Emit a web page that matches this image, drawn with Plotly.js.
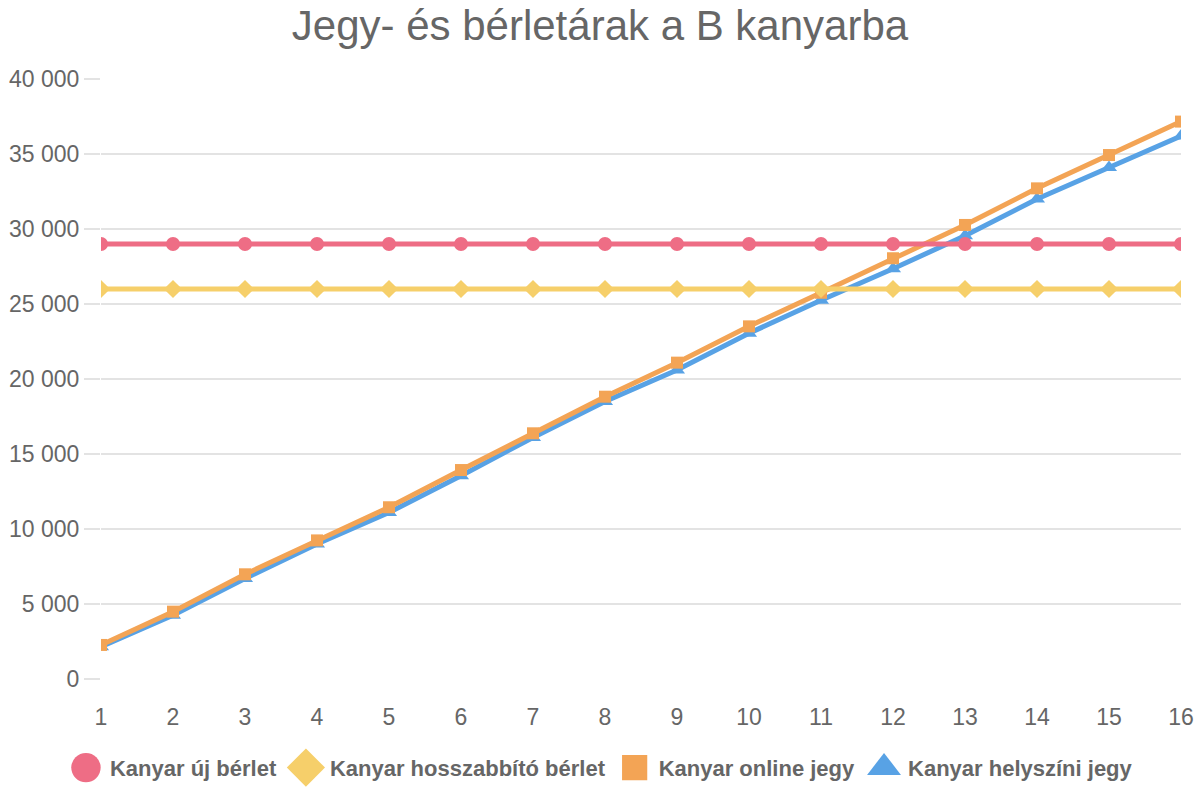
<!DOCTYPE html>
<html>
<head>
<meta charset="utf-8">
<script src="https://cdn.plot.ly/plotly-3.0.1.min.js"></script>
<style>
  html, body { margin: 0; padding: 0; background: #fff; }
  #chart { width: 1200px; height: 800px; }
</style>
</head>
<body>
<div id="chart"></div>
<script>
const matches = [1, 2, 3, 4, 5, 6, 7, 8, 9, 10, 11, 12, 13, 14, 15, 16];
const ujBerlet = [29000, 29000, 29000, 29000, 29000, 29000, 29000, 29000, 29000, 29000, 29000, 29000, 29000, 29000, 29000, 29000];
const hosszabbitoBerlet = [26000, 26000, 26000, 26000, 26000, 26000, 26000, 26000, 26000, 26000, 26000, 26000, 26000, 26000, 26000, 26000];
const onlineJegy = [2270, 4490, 6980, 9240, 11450, 13930, 16380, 18820, 21090, 23510, 25750, 28050, 30270, 32710, 34930, 37160];
const helyszininJegy = [2150, 4250, 6700, 9000, 11100, 13550, 16100, 18500, 20600, 23050, 25250, 27350, 29550, 32000, 34100, 36200];
const seriesNames = ["Kanyar új bérlet", "Kanyar hosszabbító bérlet", "Kanyar online jegy", "Kanyar helyszíni jegy"];
const yTicks = [0, 5000, 10000, 15000, 20000, 25000, 30000, 35000, 40000];

const colors = ["#ee6d85", "#f6cf6a", "#f3a455", "#58a2e5"];
const symbols = ["circle", "diamond", "square", "triangle-up"];
const sizes = [14, 14, 12, 14];
const values = [ujBerlet, hosszabbitoBerlet, onlineJegy, helyszininJegy];

const data = [];
// drawn bottom-up so that the first series ends on top, like the reference
for (let i = 3; i >= 0; i--) {
  data.push({
    type: "scatter", mode: "lines", name: seriesNames[i], x: matches, y: values[i],
    line: { color: colors[i], width: 5 }, showlegend: false, hoverinfo: "skip"
  });
  data.push({
    type: "scatter", mode: "markers", name: seriesNames[i], x: matches, y: values[i],
    marker: { color: colors[i], symbol: symbols[i], size: sizes[i] }, hoverinfo: "skip"
  });
}

const font = "Helvetica Neue, Liberation Sans, Arial, sans-serif";
const layout = {
  width: 1200, height: 800,
  paper_bgcolor: "#fff", plot_bgcolor: "#fff",
  separators: ", ",
  margin: { l: 101, r: 19, t: 79, b: 121, autoexpand: false },
  title: { text: "Jegy- és bérletárak a B kanyarba", font: { family: font, size: 42, color: "#666" }, x: 0.5, xanchor: "center", y: 0.968, yanchor: "middle" },
  xaxis: {
    range: [1, 16], tickvals: matches, showgrid: false, zeroline: false, showline: false,
    ticks: "outside", ticklen: 17, tickcolor: "rgba(0,0,0,0)",
    tickfont: { family: font, size: 23, color: "#666" }, fixedrange: true
  },
  yaxis: {
    range: [0, 40000], tickvals: yTicks, tickformat: ",d",
    showgrid: true, gridcolor: "#e3e3e3", gridwidth: 1.5, zeroline: false, showline: false,
    ticks: "outside", ticklen: 16, tickcolor: "#e3e3e3", tickwidth: 1.5,
    tickfont: { family: font, size: 23, color: "#666" }, fixedrange: true
  },
  showlegend: true,
  legend: {
    orientation: "h", x: 0.462, xanchor: "center", y: -0.148, yanchor: "middle",
    traceorder: "reversed", itemsizing: "trace", itemwidth: 38,
    font: { family: font, size: 22, color: "#666", weight: "bold" }
  }
};

Plotly.newPlot("chart", data, layout, { staticPlot: true, displayModeBar: false }).then(function (gd) {
  // enlarge the legend symbols to match the reference's big legend markers
  gd.querySelectorAll(".legend .legendpoints path.scatterpts").forEach(function (p) {
    const t = p.getAttribute("transform") || "";
    p.setAttribute("transform", t + " scale(2.1)");
  });
});
</script>
</body>
</html>
